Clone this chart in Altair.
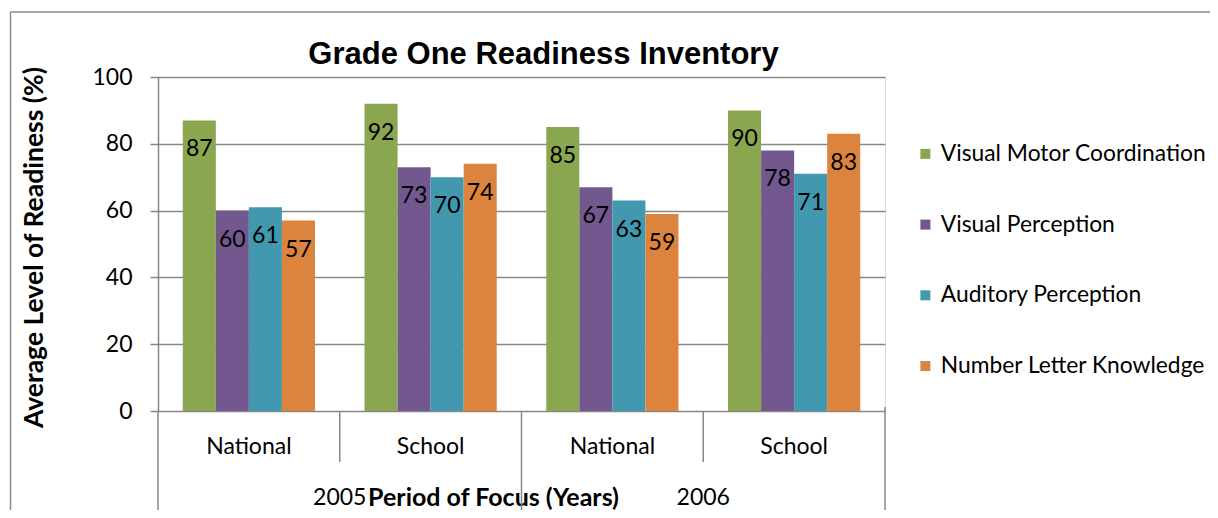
import altair as alt
import pandas as pd

# ---- data ----
categories = ["2005|National", "2005|School", "2006|National", "2006|School"]
series = ["Visual Motor Coordination", "Visual Perception",
          "Auditory Perception", "Number Letter Knowledge"]
visual_motor = [87, 92, 85, 90]
visual_perception = [60, 73, 67, 78]
auditory_perception = [61, 70, 63, 71]
number_letter = [57, 74, 59, 83]
colors = ["#8AA64F", "#72588F", "#4298AF", "#DC843E"]
y_ticks = [0, 20, 40, 60, 80, 100]

rows = []
for i, c in enumerate(categories):
    for s, vals in zip(series, [visual_motor, visual_perception,
                                auditory_perception, number_letter]):
        rows.append({"cat": c, "series": s, "value": vals[i]})
df = pd.DataFrame(rows)

W, H = 727, 334
GRAY = "#878787"
FONT = "Lato"

xs = alt.Scale(domain=categories, paddingInner=0, paddingOuter=0)
x_axis = alt.Axis(
    title="Period of Focus (Years)",
    labelExpr="split(datum.label, '|')[1]",
    labelAngle=0, labelFont=FONT, labelFontSize=23, labelColor="black",
    labelBaseline="middle", labelPadding=35,
    ticks=False, domain=False, grid=False,
    titleFont=FONT, titleFontSize=25, titleFontWeight="bold", titleColor="black",
    titleX=335, titleY=94, titleBaseline="alphabetic", titleAlign="center",
)
xenc = alt.X("cat:N", scale=xs, axis=x_axis)

yenc = alt.Y(
    "value:Q",
    scale=alt.Scale(domain=[0, 100]),
    axis=alt.Axis(
        title="Average Level of Readiness (%)",
        values=y_ticks, grid=True, gridColor=GRAY, gridWidth=1.5,
        domain=True, domainColor=GRAY, domainWidth=1.5,
        ticks=True, tickSize=8, tickColor=GRAY, tickWidth=1.5,
        labelFont=FONT, labelFontSize=23, labelColor="black", labelPadding=18,
        titleFont=FONT, titleFontSize=26.5, titleFontWeight="bold", titleColor="black",
        titleAngle=270, titleX=-124, titleY=H / 2 + 3, titleBaseline="middle",
        titleAlign="center",
    ),
)
xoff = alt.XOffset("series:N", scale=alt.Scale(domain=series, paddingInner=0, paddingOuter=0.75))

bars = alt.Chart(df).mark_bar().encode(
    x=xenc, xOffset=xoff, y=yenc,
    color=alt.Color(
        "series:N",
        scale=alt.Scale(domain=series, range=colors),
        legend=alt.Legend(
            title=None, orient="none", legendX=756, legendY=65.5,
            symbolType="square", symbolSize=100, symbolStrokeWidth=0,
            labelFont=FONT, labelFontSize=22.8, labelColor="black",
            labelOffset=4, rowPadding=46.7, padding=0, labelLimit=400,
        ),
    ),
)

value_labels = alt.Chart(df).mark_text(
    dy=29, baseline="middle", align="center", font=FONT, fontSize=23, color="black"
).encode(x=xenc, xOffset=xoff, y=yenc, text="value:Q")

# multi-level category axis pieces
sub_df = pd.DataFrame({"cat": [c for c in categories if c.endswith("School")]})
sub_df["year"] = [c.split("|")[0] for c in sub_df["cat"]]
year_df = pd.DataFrame({"cat": [c for c in categories if c.endswith("National")]})
last_df = pd.DataFrame({"cat": [categories[-1]]})

def xband(bp):
    return alt.X("cat:N", scale=xs, axis=x_axis, bandPosition=bp)

long_sep = alt.Chart(year_df).mark_rule(color=GRAY, strokeWidth=1.5).encode(
    x=xband(0), y=alt.value(H), y2=alt.value(H + 99))
short_sep = alt.Chart(sub_df).mark_rule(color=GRAY, strokeWidth=1.5).encode(
    x=xband(0), y=alt.value(H), y2=alt.value(H + 51))
end_sep = alt.Chart(last_df).mark_rule(color=GRAY, strokeWidth=1.5).encode(
    x=xband(1), y=alt.value(H - 4), y2=alt.value(H + 99))
year_text = alt.Chart(sub_df).mark_text(
    baseline="middle", align="center", font=FONT, fontSize=23, color="black"
).encode(x=xband(0), y=alt.value(H + 87), text="year:N")

# outer chart frame
one = pd.DataFrame({"a": [0]})
frame_left = alt.Chart(one).mark_rule(color="#8C8C8C", strokeWidth=1.5).encode(
    x=alt.value(-147.5), y=alt.value(-65), y2=alt.value(H + 99))
frame_top = alt.Chart(one).mark_rule(color="#8C8C8C", strokeWidth=1.5).encode(
    x=alt.value(-147.5), x2=alt.value(1052), y=alt.value(-65))

chart = alt.layer(
    bars, value_labels, long_sep, short_sep, end_sep, year_text, frame_left, frame_top
).properties(
    width=W, height=H,
    padding={"left": 150, "top": 69, "right": 325, "bottom": 99},
    autosize=alt.AutoSizeParams(type="none"),
    title=alt.TitleParams(
        "Grade One Readiness Inventory", font="Liberation Sans", fontSize=31,
        fontWeight="bold", color="black", anchor="middle", frame="group",
        dx=22, offset=0, dy=84, baseline="alphabetic",
    ),
).configure_view(stroke=None).configure(background="white")

chart.save("out.html", embed_options={"renderer": "svg", "actions": False})
